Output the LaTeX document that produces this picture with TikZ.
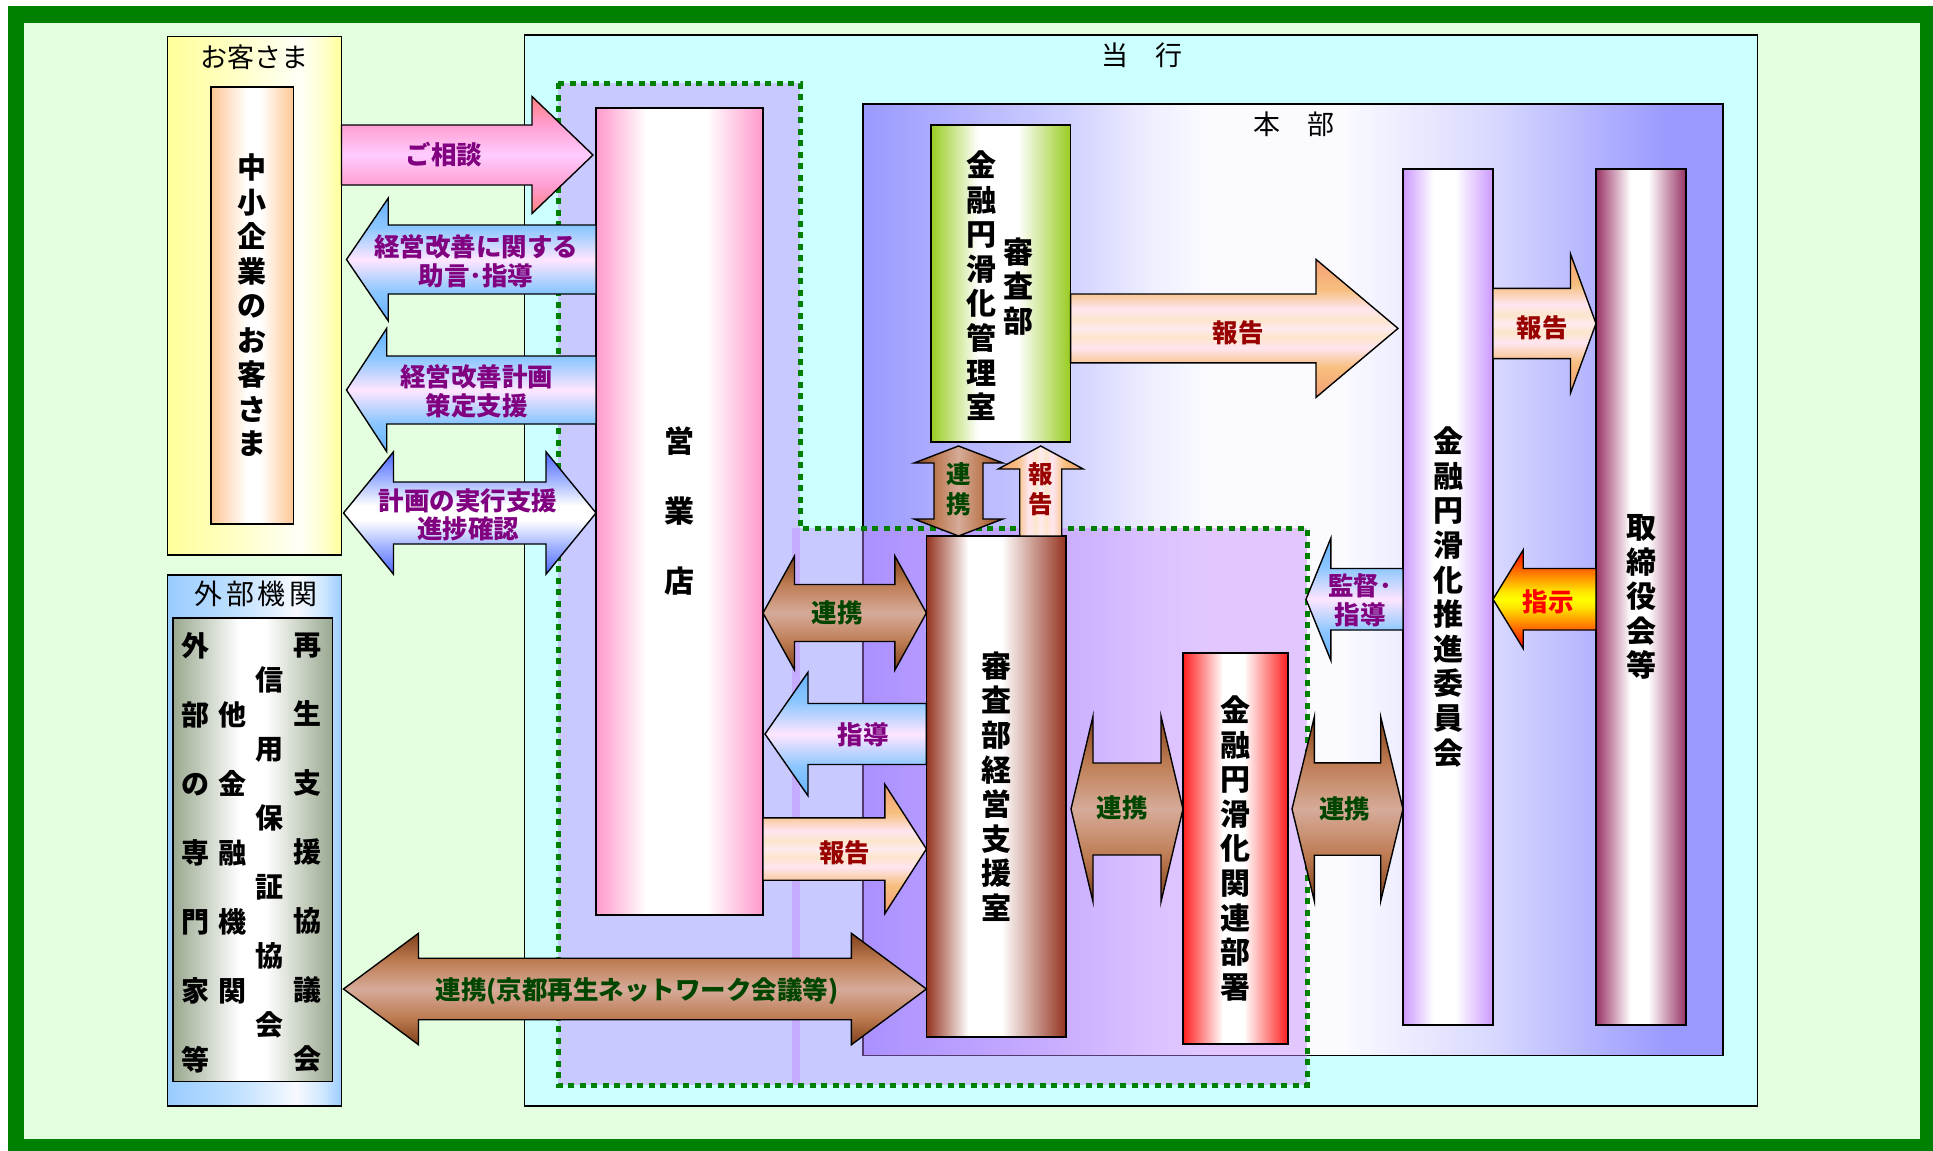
\documentclass[tikz,border=0pt]{standalone}
\usepackage{fontspec}
\newfontfamily\jp{Noto Sans CJK JP}
\usetikzlibrary{calc}

\definecolor{frameGreen}{RGB}{0,128,0}
\definecolor{bgGreen}{RGB}{228,255,224}
\definecolor{toukouCyan}{RGB}{204,255,255}
\definecolor{ovlPurple}{RGB}{195,134,255}
\definecolor{lPurple}{RGB}{128,0,128}
\definecolor{lGreen}{RGB}{0,70,0}
\definecolor{lRed}{RGB}{153,0,0}
\definecolor{lBright}{RGB}{255,0,0}

% cylinder-like box shadings (colour changes left to right)
\newcommand\cylH[4]{\pgfdeclarehorizontalshading{#1}{100bp}{rgb(0bp)=(#2); rgb(25bp)=(#2); rgb(#3bp)=(1,1,1); rgb(#4bp)=(1,1,1); rgb(75bp)=(#2); rgb(100bp)=(#2)}}
\cylH{cylPeach}{1,0.78,0.58}{47}{55}
\cylH{cylPink}{1,0.6,0.8}{40}{58}
\cylH{cylGreen}{0.6,0.8,0.13}{42}{56}
\cylH{cylBrown}{0.58,0.2,0.12}{40}{52}
\cylH{cylRed}{1,0.12,0.12}{44}{54}
\cylH{cylPurple}{0.8,0.6,1}{42}{54}
\cylH{cylMag}{0.6,0.2,0.4}{44}{54}
\cylH{cylGray}{0.6,0.66,0.56}{46}{54}
\pgfdeclarehorizontalshading{cylYellow}{100bp}{rgb(0bp)=(1,1,0.6); rgb(25bp)=(1,1,0.6); rgb(45bp)=(1,1,0.78); rgb(63bp)=(1,1,0.97); rgb(70bp)=(1,1,0.8); rgb(75bp)=(1,1,0.6); rgb(100bp)=(1,1,0.6)}
\pgfdeclarehorizontalshading{cylBlue}{100bp}{rgb(0bp)=(0.6,0.8,1); rgb(25bp)=(0.6,0.8,1); rgb(45bp)=(0.75,0.88,1); rgb(62bp)=(0.97,0.98,1); rgb(70bp)=(0.8,0.9,1); rgb(75bp)=(0.6,0.8,1); rgb(100bp)=(0.6,0.8,1)}
\pgfdeclarehorizontalshading{honbuSh}{100bp}{rgb(0bp)=(0.6,0.6,1); rgb(25bp)=(0.6,0.6,1); rgb(37bp)=(0.82,0.82,1); rgb(42bp)=(0.94,0.94,1); rgb(45bp)=(0.98,0.98,1); rgb(53bp)=(0.98,0.98,1); rgb(61.6bp)=(0.85,0.85,1); rgb(67.6bp)=(0.7,0.7,1); rgb(72bp)=(0.6,0.6,1); rgb(100bp)=(0.6,0.6,1)}

% block arrow shadings (horizontal arrows: colour changes bottom to top)
\newcommand\arrV[4]{\pgfdeclareverticalshading{#1}{100bp}{rgb(0bp)=(#2); rgb(25bp)=(#2); rgb(37bp)=(#3); rgb(50bp)=(#4); rgb(63bp)=(#3); rgb(75bp)=(#2); rgb(100bp)=(#2)}}
\arrV{arrPink}{1,0.5,0.5}{1,0.62,0.82}{1,0.8,1}
\arrV{arrBluePink}{0.4,0.7,1}{0.55,0.78,1}{1,0.9,1}
\arrV{arrBrown}{0.5,0.25,0.1}{0.74,0.48,0.32}{0.84,0.67,0.6}
\pgfdeclareverticalshading{arrBlueWhite}{100bp}{rgb(0bp)=(0.3,0.4,1); rgb(25bp)=(0.3,0.4,1); rgb(37bp)=(0.65,0.72,1); rgb(47bp)=(1,1,1); rgb(53bp)=(1,1,1); rgb(63bp)=(0.65,0.72,1); rgb(75bp)=(0.3,0.4,1); rgb(100bp)=(0.3,0.4,1)}
\pgfdeclareverticalshading{arrOrange}{100bp}{rgb(0bp)=(0.96,0.62,0.45); rgb(25bp)=(0.96,0.62,0.45); rgb(36bp)=(0.97,0.75,0.5); rgb(43bp)=(1,0.9,0.94); rgb(47bp)=(0.99,0.9,0.8); rgb(50bp)=(1,0.92,0.94); rgb(53bp)=(0.99,0.9,0.8); rgb(57bp)=(1,0.9,0.94); rgb(64bp)=(0.97,0.75,0.5); rgb(75bp)=(0.96,0.62,0.45); rgb(100bp)=(0.96,0.62,0.45)}
\pgfdeclareverticalshading{arrFire}{100bp}{rgb(0bp)=(1,0,0); rgb(25bp)=(1,0,0); rgb(36bp)=(1,0.45,0); rgb(46bp)=(1,0.9,0); rgb(50bp)=(1,1,0); rgb(54bp)=(1,0.9,0); rgb(64bp)=(1,0.45,0); rgb(75bp)=(1,0,0); rgb(100bp)=(1,0,0)}
% vertical arrows: colour changes left to right
\pgfdeclarehorizontalshading{vBrown}{100bp}{rgb(0bp)=(0.5,0.25,0.1); rgb(25bp)=(0.5,0.25,0.1); rgb(37bp)=(0.74,0.48,0.32); rgb(50bp)=(0.84,0.67,0.6); rgb(63bp)=(0.74,0.48,0.32); rgb(75bp)=(0.5,0.25,0.1); rgb(100bp)=(0.5,0.25,0.1)}
\pgfdeclarehorizontalshading{vOrange}{100bp}{rgb(0bp)=(0.96,0.62,0.45); rgb(25bp)=(0.96,0.62,0.45); rgb(36bp)=(0.97,0.75,0.5); rgb(43bp)=(1,0.9,0.94); rgb(47bp)=(0.99,0.9,0.8); rgb(50bp)=(1,0.92,0.94); rgb(53bp)=(0.99,0.9,0.8); rgb(57bp)=(1,0.9,0.94); rgb(64bp)=(0.97,0.75,0.5); rgb(75bp)=(0.96,0.62,0.45); rgb(100bp)=(0.96,0.62,0.45)}

% block arrows: #1,#2 end points; #3 shaft half width; #4 head half width; #5 head length; #6 shading
\newcommand\RArr[6]{\path[blk,shading=#6] let \p1=(#1), \p2=(#2) in
  (\x1,\y1+#3) -- (\x2-#5,\y1+#3) -- (\x2-#5,\y1+#4) -- (\x2,\y1) -- (\x2-#5,\y1-#4) -- (\x2-#5,\y1-#3) -- (\x1,\y1-#3) -- cycle;}
\newcommand\LArr[6]{\path[blk,shading=#6] let \p1=(#1), \p2=(#2) in
  (\x2,\y1+#3) -- (\x1+#5,\y1+#3) -- (\x1+#5,\y1+#4) -- (\x1,\y1) -- (\x1+#5,\y1-#4) -- (\x1+#5,\y1-#3) -- (\x2,\y1-#3) -- cycle;}
\newcommand\DArr[6]{\path[blk,shading=#6] let \p1=(#1), \p2=(#2) in
  (\x1,\y1) -- (\x1+#5,\y1+#4) -- (\x1+#5,\y1+#3) -- (\x2-#5,\y1+#3) -- (\x2-#5,\y1+#4) -- (\x2,\y1) -- (\x2-#5,\y1-#4) -- (\x2-#5,\y1-#3) -- (\x1+#5,\y1-#3) -- (\x1+#5,\y1-#4) -- cycle;}
\newcommand\UArr[6]{\path[blk,shading=#6] let \p1=(#1), \p2=(#2) in
  (\x1-#3,\y1) -- (\x1-#3,\y2-#5) -- (\x1-#4,\y2-#5) -- (\x1,\y2) -- (\x1+#4,\y2-#5) -- (\x1+#3,\y2-#5) -- (\x1+#3,\y1) -- cycle;}
\newcommand\VDArr[6]{\path[blk,shading=#6] let \p1=(#1), \p2=(#2) in
  (\x1,\y1) -- (\x1+#4,\y1-#5) -- (\x1+#3,\y1-#5) -- (\x1+#3,\y2+#5) -- (\x1+#4,\y2+#5) -- (\x1,\y2) -- (\x1-#4,\y2+#5) -- (\x1-#3,\y2+#5) -- (\x1-#3,\y1-#5) -- (\x1-#4,\y1-#5) -- cycle;}

\tikzset{
  box/.style={draw=black, line width=1.6pt, inner sep=0pt, outer sep=0pt, anchor=north west},
  blk/.style={draw=black, line width=1.4pt, shade},
  vt/.style={font=\jp\bfseries\fontsize{30}{34.6}\selectfont, align=center, inner sep=0pt},
  lbl/.style={font=\jp\bfseries\fontsize{25.5}{28.6}\selectfont, align=center, inner sep=0pt},
  vlbl/.style={font=\jp\bfseries\fontsize{24.5}{30}\selectfont, align=center, inner sep=0pt},
  ttl/.style={font=\jp\fontsize{27}{30}\selectfont, inner sep=0pt},
  ovl/.style={fill=ovlPurple, fill opacity=0.43},
  grpline/.style={draw=frameGreen, line width=5pt, dash pattern=on 6pt off 5.5pt},
}

\begin{document}
\begin{tikzpicture}[x=1pt,y=-1pt]
\useasboundingbox (0,0) rectangle (1933,1151);
\fill[frameGreen] (8,6) rectangle (1933,1151);
\fill[bgGreen] (24,23) rectangle (1920,1139);

% customers
\node[box, shade, shading=cylYellow, minimum width=174.1pt, minimum height=518.6pt] (cust) at (167.4,36.4) {};
\node[ttl] (cust-t) at (254.5,57) {お客さま};
\node[box, shade, shading=cylPeach, minimum width=82.6pt, minimum height=437pt, vt, font=\jp\bfseries\fontsize{29}{34.5}\selectfont] (custin) at (210.7,87) {中\\小\\企\\業\\の\\お\\客\\さ\\ま};

% external organisations
\node[box, shade, shading=cylBlue, minimum width=174.1pt, minimum height=530.8pt] (ext) at (167.4,575) {};
\node[ttl, font=\jp\fontsize{28}{30}\selectfont] (ext-t) at (256,594) {外\kern3.5pt 部\kern3.5pt 機\kern3.5pt 関};
\node[box, shade, shading=cylGray, minimum width=159.6pt, minimum height=463.6pt] (extin) at (173,618) {};
\node[vt, font=\jp\bfseries\fontsize{28}{69}\selectfont] (ext-c1) at (195,853) {外\\部\\の\\専\\門\\家\\等};
\node[vt, font=\jp\bfseries\fontsize{28}{69}\selectfont] (ext-c2) at (232,853) {他\\金\\融\\機\\関};
\node[vt, font=\jp\bfseries\fontsize{28}{69}\selectfont] (ext-c3) at (269,852.5) {信\\用\\保\\証\\協\\会};
\node[vt, font=\jp\bfseries\fontsize{28}{69}\selectfont] (ext-c4) at (307,853) {再\\生\\支\\援\\協\\議\\会};

% bank
\node[box, fill=toukouCyan, minimum width=1232.9pt, minimum height=1071pt] (toukou) at (524.5,35) {};
\node[ttl] (toukou-t) at (1141.5,55.5) {当　行};
\node[box, shade, shading=honbuSh, minimum width=859.7pt, minimum height=951.5pt] (honbu) at (863,104) {};
\node[ttl] (honbu-t) at (1293.5,124) {本　部};

% branch group (dotted)
\fill[ovl] (558,83) rectangle (800,1085);
\fill[ovl] (792,528) rectangle (1307,1085);
\coordinate (grpNE) at (1307,528);
\draw[grpline] (558,83) -- (800,83) -- (800,528) -- (grpNE) -- (1307,1085) -- (558,1085) -- cycle;

% boxes
\node[box, shade, shading=cylPink, minimum width=167pt, minimum height=807pt, vt, font=\jp\bfseries\fontsize{30}{70}\selectfont] (branch) at (596,108) {営\\業\\店};
\node[box, shade, shading=cylGreen, minimum width=139.7pt, minimum height=317pt] (kanri) at (930.9,125) {};
\node[vt] (kanri-c1) at (981.5,285.7) {金\\融\\円\\滑\\化\\管\\理\\室};
\node[vt] (kanri-c2) at (1018,286.6) {審\\査\\部};
\node[box, shade, shading=cylBrown, minimum width=139.6pt, minimum height=501pt, vt] (shien) at (926.4,536) {審\\査\\部\\経\\営\\支\\援\\室};
\node[box, shade, shading=cylRed, minimum width=105pt, minimum height=391.2pt, vt] (kanren) at (1183,652.8) {金\\融\\円\\滑\\化\\関\\連\\部\\署};
\node[box, shade, shading=cylPurple, minimum width=90pt, minimum height=856pt, vt] (suishin) at (1403,169) {金\\融\\円\\滑\\化\\推\\進\\委\\員\\会};
\node[box, shade, shading=cylMag, minimum width=90pt, minimum height=856pt, vt] (tori) at (1596,169) {取\\締\\役\\会\\等};

% arrows between customers and branch
\RArr{cust.east |- 0,155}{$(branch.west |- 0,155)+(-3,0)$}{30pt}{58.5pt}{61pt}{arrPink}
\node[lbl, text=lPurple] (l-soudan) at (444,155) {ご相談};
\LArr{$(cust.east |- 0,259.5)+(5,0)$}{branch.west |- 0,259.5}{34.5pt}{61.3pt}{41.7pt}{arrBluePink}
\node[lbl, text=lPurple] (l-jogen) at (476,261.3) {経営改善に関する\\助言･指導};
\LArr{$(cust.east |- 0,390)+(5,0)$}{branch.west |- 0,390}{34pt}{61.6pt}{40.2pt}{arrBluePink}
\node[lbl, text=lPurple] (l-sakutei) at (476.7,391.3) {経営改善計画\\策定支援};
\DArr{$(cust.east |- 0,513)+(2,0)$}{branch.west |- 0,513}{31pt}{61.2pt}{50pt}{arrBlueWhite}
\node[lbl, text=lPurple] (l-jikkou) at (468,514.8) {計画の実行支援\\進捗確認};

% external network
\DArr{$(ext.east |- 0,989)+(2,0)$}{shien.west |- 0,989}{30.75pt}{55.7pt}{75pt}{arrBrown}
\node[lbl, text=lGreen] (l-network) at (637,991) {連携(京都再生ネットワーク会議等)};

% branch <-> support office
\DArr{branch.east |- 0,613}{shien.west |- 0,613}{28.5pt}{57pt}{31.5pt}{arrBrown}
\node[lbl, text=lGreen] (l-renkei1) at (837,613) {連携};
\LArr{$(branch.east |- 0,734)+(2,0)$}{shien.west |- 0,734}{30.5pt}{61.75pt}{43pt}{arrBluePink}
\node[lbl, text=lPurple] (l-shidou1) at (863,735) {指導};
\RArr{branch.east |- 0,849}{shien.west |- 0,849}{31.2pt}{64.5pt}{41.5pt}{arrOrange}
\node[lbl, text=lRed] (l-houkoku1) at (844.5,853) {報告};

% support office <-> related departments <-> committee
\DArr{$(shien.east |- 0,809)+(5,0)$}{kanren.west |- 0,809}{46pt}{92.8pt}{22pt}{arrBrown}
\node[lbl, text=lGreen] (l-renkei2) at (1122,808) {連携};
\DArr{$(kanren.east |- 0,809)+(4,0)$}{suishin.west |- 0,809}{46.2pt}{92pt}{22.3pt}{arrBrown}
\node[lbl, text=lGreen] (l-renkei3) at (1344.5,809) {連携};
\LArr{$(grpNE |- 0,599.25)+(-1,0)$}{suishin.west |- 0,599.25}{30.75pt}{61pt}{24.8pt}{arrBluePink}
\node[lbl, text=lPurple] (l-kantoku) at (1360,600) {監督･\\指導};

% committee <-> board
\LArr{suishin.east |- 0,599.25}{tori.west |- 0,599.25}{30.75pt}{49.3pt}{30.2pt}{arrFire}
\node[lbl, text=lBright] (l-shiji) at (1548,601.7) {指示};
\RArr{suishin.east |- 0,323.5}{tori.west |- 0,323.5}{35.1pt}{69.5pt}{25.5pt}{arrOrange}
\node[lbl, text=lRed] (l-houkoku2) at (1542,328) {報告};

% management office -> committee
\RArr{kanri.east |- 0,328.4}{$(suishin.west |- 0,328.4)+(-5,0)$}{34.4pt}{69pt}{82pt}{arrOrange}
\node[lbl, text=lRed] (l-houkoku3) at (1238,333) {報告};

% management office <-> support office
\VDArr{$(958.5,0 |- kanri.south)+(0,4)$}{958.5,0 |- shien.north}{24.5pt}{44.4pt}{17pt}{vBrown}
\node[vlbl, text=lGreen] (l-renkei4) at (958.5,489.5) {連\\携};
\UArr{1040.7,0 |- shien.north}{$(1040.7,0 |- kanri.south)+(0,4)$}{21pt}{42.5pt}{23pt}{vOrange}
\node[vlbl, text=lRed] (l-houkoku4) at (1040.7,489.5) {報\\告};
\end{tikzpicture}
\end{document}
